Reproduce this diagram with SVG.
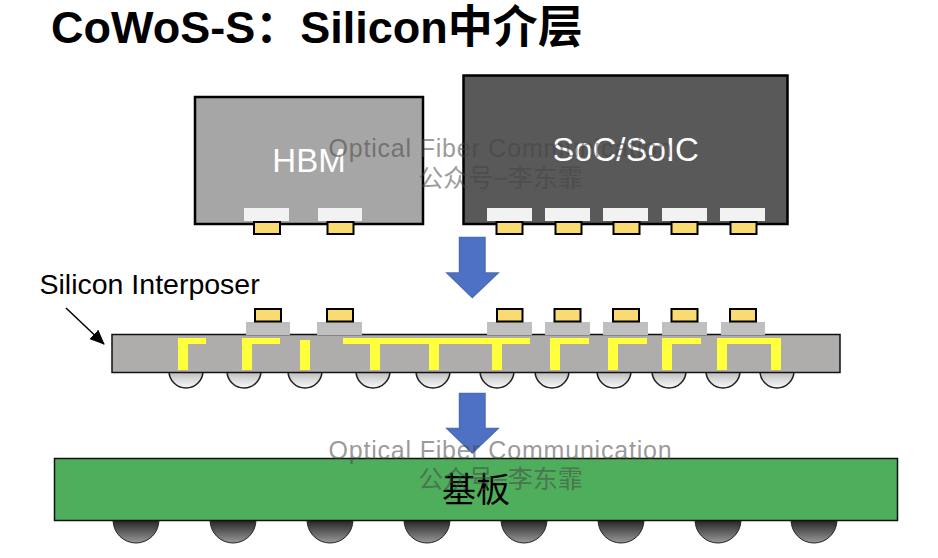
<svg xmlns="http://www.w3.org/2000/svg" width="938" height="558" viewBox="0 0 938 558">
  <style>
    text { font-family: "Liberation Sans", "Noto Sans CJK SC", sans-serif; }
    .title { font-size: 45px; font-weight: bold; fill: #000; }
    .chip-label { font-size: 33px; fill: #fff; text-anchor: middle; }
    .pad-light { fill: #f2f2f2; }
    .pad-grey { fill: #bfbfbf; }
    .bump { fill: #f9db72; stroke: #000; stroke-width: 2; }
    .trace { fill: #ffff3c; }
    .flow { fill: #4f71c4; stroke: #4a6db8; stroke-width: 1.5; }
    .ball { fill: url(#ballLight); stroke: #222; stroke-width: 1.5; }
    .ball-dark { fill: url(#ballDark); stroke: #222; stroke-width: 1; }
    .mark-en { font-size: 25px; fill: #444; fill-opacity: .55; text-anchor: middle; letter-spacing: .8px; }
    .mark-cn { font-size: 25px; fill: #444; fill-opacity: .55; text-anchor: middle; }
  </style>
  <defs>
    <linearGradient id="ballLight" x1="0" y1="0" x2="0" y2="1">
      <stop offset="0.5" stop-color="#b8b8b8"/>
      <stop offset="1" stop-color="#fafafa"/>
    </linearGradient>
    <linearGradient id="ballDark" x1="0" y1="0" x2="0" y2="1">
      <stop offset="0.5" stop-color="#222"/>
      <stop offset="1" stop-color="#999"/>
    </linearGradient>
    <marker id="head" markerUnits="userSpaceOnUse" markerWidth="16" markerHeight="14" refX="14" refY="6.5" orient="auto">
      <path d="M0 0L15 6.5L0 13z" fill="#000"/>
    </marker>
  </defs>

  <rect width="938" height="558" fill="#fff"/>

  <text id="title" class="title" x="51" y="43">CoWoS-S：Silicon中介层</text>

  <g id="hbm">
    <rect x="195" y="97" width="228" height="127" fill="#a6a6a6" stroke="#000" stroke-width="2.5"/>
    <text class="chip-label" x="309" y="172">HBM</text>
    <rect class="pad-light" x="244" y="208" width="45" height="13"/>
    <rect class="pad-light" x="318" y="208" width="44" height="13"/>
    <rect class="bump" x="254" y="222" width="26" height="12"/>
    <rect class="bump" x="327.500" y="222" width="26" height="12"/>
  </g>

  <g id="soc">
    <rect x="463.500" y="75.500" width="324" height="148.500" fill="#595959" stroke="#000" stroke-width="2.5"/>
    <text class="chip-label" x="625.500" y="160.500">SoC/SoIC</text>
    <rect class="pad-light" x="487" y="208" width="45" height="13"/>
    <rect class="pad-light" x="545" y="208" width="45" height="13"/>
    <rect class="pad-light" x="603" y="208" width="45" height="13"/>
    <rect class="pad-light" x="662" y="208" width="45" height="13"/>
    <rect class="pad-light" x="720" y="208" width="45" height="13"/>
    <rect class="bump" x="496.500" y="222" width="26" height="12"/>
    <rect class="bump" x="555.500" y="222" width="26" height="12"/>
    <rect class="bump" x="613.500" y="222" width="26" height="12"/>
    <rect class="bump" x="671.500" y="222" width="26" height="12"/>
    <rect class="bump" x="730.500" y="222" width="26" height="12"/>
  </g>

  <g id="interposer">
    <circle class="ball" cx="186" cy="371" r="17"/>
    <circle class="ball" cx="244" cy="371" r="17"/>
    <circle class="ball" cx="305" cy="371" r="17"/>
    <circle class="ball" cx="373" cy="371" r="17"/>
    <circle class="ball" cx="433" cy="371" r="17"/>
    <circle class="ball" cx="497" cy="371" r="17"/>
    <circle class="ball" cx="552" cy="371" r="17"/>
    <circle class="ball" cx="614" cy="371" r="17"/>
    <circle class="ball" cx="669" cy="371" r="17"/>
    <circle class="ball" cx="723" cy="371" r="17"/>
    <circle class="ball" cx="777" cy="371" r="17"/>
    <rect x="112" y="334.500" width="728" height="38" fill="#aeadac" stroke="#111" stroke-width="1.5"/>
    <rect class="pad-grey" x="246" y="322" width="44" height="13"/>
    <rect class="pad-grey" x="317" y="322" width="45" height="13"/>
    <rect class="pad-grey" x="487" y="322" width="45" height="13"/>
    <rect class="pad-grey" x="545" y="322" width="45" height="13"/>
    <rect class="pad-grey" x="603" y="322" width="45" height="13"/>
    <rect class="pad-grey" x="662" y="322" width="45" height="13"/>
    <rect class="pad-grey" x="721" y="322" width="44" height="13"/>
    <rect class="bump" x="255" y="309" width="26" height="12.500"/>
    <rect class="bump" x="327" y="309" width="26" height="12.500"/>
    <rect class="bump" x="497" y="309" width="25.500" height="12.500"/>
    <rect class="bump" x="554.500" y="309" width="26" height="12.500"/>
    <rect class="bump" x="613" y="309" width="26" height="12.500"/>
    <rect class="bump" x="671.500" y="309" width="26" height="12.500"/>
    <rect class="bump" x="730" y="309" width="26" height="12.500"/>
    <path class="trace" d="M178 338H206V344H188V370H178z"/>
    <path class="trace" d="M242 338H280V344H252V370H242z"/>
    <rect class="trace" x="300" y="340" width="10" height="30"/>
    <path class="trace" d="M343 338H530V344H502V370H492V344H439V370H429V344H380V370H370V344H343z"/>
    <path class="trace" d="M550 338H589V344H560V370H550z"/>
    <path class="trace" d="M608 338H647V344H618V370H608z"/>
    <path class="trace" d="M662 338H701V344H672V370H662z"/>
    <path class="trace" d="M717 338H781V370H771V344H727V370H717z"/>
    <text x="39.500" y="293.500" font-size="28.500" fill="#000">Silicon Interposer</text>
  </g>

  <g id="substrate">
    <circle class="ball-dark" cx="136" cy="520" r="23"/>
    <circle class="ball-dark" cx="233" cy="520" r="23"/>
    <circle class="ball-dark" cx="330" cy="520" r="23"/>
    <circle class="ball-dark" cx="427" cy="520" r="23"/>
    <circle class="ball-dark" cx="524" cy="520" r="23"/>
    <circle class="ball-dark" cx="621" cy="520" r="23"/>
    <circle class="ball-dark" cx="718" cy="520" r="23"/>
    <circle class="ball-dark" cx="814" cy="520" r="23"/>
    <rect x="54.500" y="458.500" width="843" height="62" fill="#4fae5c" stroke="#111" stroke-width="1.500"/>
    <text x="476" y="502" font-size="34" fill="#000" text-anchor="middle">基板</text>
  </g>

  <g id="connectors">
    <path class="flow" d="M459.500 237.500H485V273H498L472.300 297.500L447 273H459.500z"/>
    <path class="flow" d="M459.500 393.500H485V428.500H498L472.300 453L447 428.500H459.500z"/>
    <path d="M66 308L104 344" fill="none" stroke="#000" stroke-width="1.500" marker-end="url(#head)"/>
  </g>

  <g id="watermarks">
    <text class="mark-en" x="500.500" y="157">Optical Fiber Communication</text>
    <text class="mark-cn" x="500.500" y="187">公众号−李东霏</text>
    <text class="mark-en" x="500.500" y="459">Optical Fiber Communication</text>
    <text class="mark-cn" x="500.500" y="488">公众号−李东霏</text>
  </g>
</svg>
